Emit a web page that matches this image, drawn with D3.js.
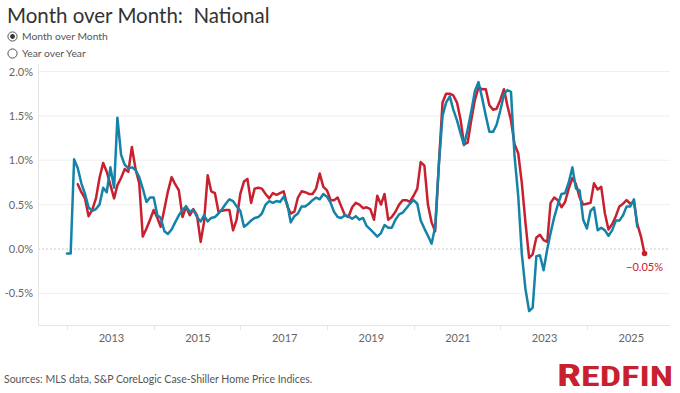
<!DOCTYPE html>
<html>
<head>
<meta charset="utf-8">
<script src="https://cdn.jsdelivr.net/npm/d3@7"></script>
<style>
  html, body { margin: 0; padding: 0; background: #fff; }
  svg { display: block; font-family: Lato, "Open Sans", sans-serif; }
  text { white-space: pre; }
</style>
</head>
<body>
<svg id="chart" width="680" height="393"></svg>
<script>
// ---- Data ----
const title = "Month over Month:  National";
const radioOptions = ["Month over Month", "Year over Year"];
const sourceText = "Sources: MLS data, S&P CoreLogic Case-Shiller Home Price Indices.";
const yTickValues = [-0.5, 0, 0.5, 1.0, 1.5, 2.0];
const yTickLabels = ["-0.5%", "0.0%", "0.5%", "1.0%", "1.5%", "2.0%"];
const xTickLabels = ["2013", "2015", "2017", "2019", "2021", "2023", "2025"];
const xTickMarks = ["2012", "2014", "2016", "2018", "2020", "2022", "2024"];

// Case-Shiller (blue) monthly MoM %, starting Jan 2012
const caseShillerStart = "2012-01";
const caseShiller = [
  -0.05,-0.05,1.01,0.91,0.74,0.62,0.47,0.43,0.45,0.50,0.69,0.64,
  0.92,0.69,1.48,1.06,0.95,0.91,0.92,0.89,0.81,0.68,0.53,0.58,
  0.58,0.38,0.35,0.20,0.17,0.22,0.30,0.38,0.44,0.48,0.42,0.44,
  0.36,0.31,0.38,0.31,0.35,0.36,0.40,0.45,0.51,0.56,0.54,0.48,
  0.43,0.25,0.28,0.32,0.35,0.36,0.40,0.50,0.54,0.52,0.54,0.53,
  0.59,0.50,0.30,0.37,0.40,0.48,0.48,0.51,0.55,0.58,0.56,0.62,
  0.59,0.52,0.42,0.36,0.35,0.38,0.37,0.34,0.37,0.33,0.35,0.26,
  0.22,0.18,0.14,0.18,0.27,0.24,0.24,0.33,0.39,0.41,0.46,0.51,
  0.55,0.51,0.32,0.23,0.15,0.06,0.25,0.95,1.50,1.65,1.72,1.57,
  1.45,1.30,1.17,1.35,1.55,1.78,1.88,1.70,1.50,1.32,1.32,1.40,
  1.56,1.74,1.79,1.77,1.05,0.60,-0.05,-0.45,-0.70,-0.66,-0.08,-0.07,
  -0.24,0.00,0.18,0.36,0.50,0.62,0.63,0.75,0.92,0.68,0.66,0.33,
  0.23,0.43,0.47,0.21,0.24,0.21,0.15,0.21,0.32,0.32,0.38,0.48,
  0.48,0.56,0.25
];

// Redfin (red) monthly MoM %, starting Apr 2012
const redfinStart = "2012-04";
const redfin = [
  0.73,0.64,0.57,0.37,0.44,0.57,0.80,0.97,0.87,
  0.72,0.57,0.72,0.80,0.90,0.87,1.15,0.90,0.74,0.14,0.23,0.33,
  0.44,0.35,0.25,0.45,0.65,0.81,0.73,0.66,0.36,0.48,0.38,0.45,
  0.38,0.08,0.30,0.83,0.65,0.63,0.42,0.43,0.44,0.44,0.21,0.33,
  0.62,0.76,0.79,0.52,0.68,0.69,0.68,0.62,0.57,0.63,0.61,0.63,
  0.65,0.48,0.40,0.42,0.58,0.65,0.64,0.62,0.62,0.68,0.85,0.70,
  0.66,0.55,0.55,0.58,0.48,0.38,0.36,0.47,0.52,0.50,0.46,0.47,
  0.45,0.33,0.60,0.50,0.62,0.33,0.36,0.42,0.50,0.55,0.55,0.53,
  0.60,0.68,0.98,0.94,0.50,0.30,0.20,0.95,1.65,1.75,1.75,1.73,
  1.65,1.45,1.18,1.20,1.45,1.68,1.82,1.80,1.80,1.62,1.57,1.58,
  1.68,1.80,1.62,1.45,1.18,1.08,0.75,0.30,-0.10,-0.06,0.13,0.16,
  0.10,0.08,0.52,0.58,0.55,0.47,0.53,0.68,0.80,0.73,0.58,0.50,
  0.51,0.52,0.74,0.67,0.70,0.40,0.22,0.28,0.37,0.48,0.51,0.55,
  0.51,0.53,0.28,0.14,-0.05
];

const colors = { redfin: "#c8202f", caseShiller: "#1583a8" };

// ---- Build series ----
const parseMonth = d3.timeParse("%Y-%m");
function toSeries(start, values) {
  const s = parseMonth(start);
  return values.map((v, i) => ({ date: d3.timeMonth.offset(s, i), value: v }));
}
const blueData = toSeries(caseShillerStart, caseShiller);
const redData = toSeries(redfinStart, redfin);

// ---- Layout ----
const svg = d3.select("#chart");
const plotLeft = 38, plotRight = 670, plotBottom = 325, plotTop = 64;

const x = d3.scaleTime()
  .domain([new Date(2012, 0, 1), new Date(2025, 0, 1)])
  .range([67, 630.3]);
const y = d3.scaleLinear()
  .domain([0, 2.0])
  .range([249, 71.5]);

// Title
svg.append("text").attr("x", 7).attr("y", 23)
  .attr("font-size", 20.5).attr("fill", "#333").text(title);

// Radio buttons
radioOptions.forEach((label, i) => {
  const cy = 36.5 + i * 17;
  svg.append("circle").attr("cx", 12.5).attr("cy", cy).attr("r", 4.6)
    .attr("fill", "#fff").attr("stroke", "#555").attr("stroke-width", 1);
  if (i === 0) {
    svg.append("circle").attr("cx", 12.5).attr("cy", cy).attr("r", 2.4).attr("fill", "#333");
  }
  svg.append("text").attr("x", 22).attr("y", cy + 3.8)
    .attr("font-size", 10.3).attr("fill", "#555").text(label);
});

// Gridlines
const g = svg.append("g");
yTickValues.forEach(v => {
  g.append("line")
    .attr("x1", plotLeft).attr("x2", plotRight)
    .attr("y1", y(v)).attr("y2", y(v))
    .attr("stroke", v === 0 ? "#c8c8c8" : "#efefef")
    .attr("stroke-width", 1)
    .attr("stroke-dasharray", v === 0 ? "2,2" : null);
});

// Axes lines
g.append("line").attr("x1", plotLeft + 0.5).attr("x2", plotLeft + 0.5)
  .attr("y1", plotTop).attr("y2", plotBottom).attr("stroke", "#e6e6e6");
g.append("line").attr("x1", plotLeft).attr("x2", plotRight)
  .attr("y1", plotBottom + 0.5).attr("y2", plotBottom + 0.5).attr("stroke", "#e6e6e6");

// Y labels
yTickValues.forEach((v, i) => {
  svg.append("text").attr("x", 33).attr("y", y(v) + 4)
    .attr("text-anchor", "end").attr("font-size", 11).attr("fill", "#666")
    .text(yTickLabels[i]);
});

// X tick marks and labels
xTickMarks.forEach(t => {
  const xx = Math.round(x(parseMonth(t + "-01"))) + 0.5;
  svg.append("line").attr("x1", xx).attr("x2", xx)
    .attr("y1", plotBottom + 1).attr("y2", plotBottom + 5).attr("stroke", "#e6e6e6");
});
xTickLabels.forEach(t => {
  svg.append("text").attr("x", x(parseMonth(t + "-01")) + 1).attr("y", 342)
    .attr("text-anchor", "middle").attr("font-size", 11).attr("fill", "#666").text(t);
});

// Lines
const line = d3.line().x(d => x(d.date)).y(d => y(d.value)).curve(d3.curveLinear);
svg.append("path").datum(redData).attr("d", line)
  .attr("fill", "none").attr("stroke", colors.redfin).attr("stroke-width", 2.5)
  .attr("stroke-linejoin", "round").attr("stroke-linecap", "round");
svg.append("path").datum(blueData).attr("d", line)
  .attr("fill", "none").attr("stroke", colors.caseShiller).attr("stroke-width", 2.5)
  .attr("stroke-linejoin", "round").attr("stroke-linecap", "round");

// End point + label
const last = redData[redData.length - 1];
svg.append("circle").attr("cx", x(last.date)).attr("cy", y(last.value)).attr("r", 2.8)
  .attr("fill", colors.redfin);
svg.append("text").attr("x", x(last.date)).attr("y", y(last.value) + 18)
  .attr("text-anchor", "middle").attr("font-size", 11).attr("fill", colors.redfin)
  .text(d3.format(".2f")(last.value) + "%");

// Footer
svg.append("text").attr("x", 4).attr("y", 383)
  .attr("font-size", 10.5).attr("fill", "#555").text(sourceText);

// Logo
const logo = svg.append("text").attr("x", 557).attr("y", 386)
  .attr("font-family", "'Liberation Sans Narrow', 'Roboto Condensed', 'DejaVu Sans Condensed', sans-serif")
  .attr("font-weight", "bold").attr("fill", "#c8202f")
  .attr("textLength", 116).attr("lengthAdjust", "spacingAndGlyphs");
logo.append("tspan").attr("font-size", 32).text("R");
logo.append("tspan").attr("font-size", 28).text("EDFIN");
</script>
</body>
</html>
